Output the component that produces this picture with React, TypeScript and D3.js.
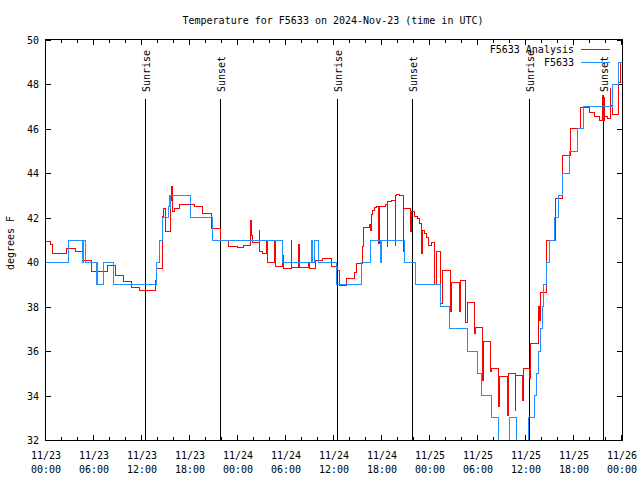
import React from 'react';
import * as d3 from 'd3';

const TITLE = 'Temperature for F5633 on 2024-Nov-23 (time in UTC)';
const Y_LABEL = 'degrees F';
const START = Date.UTC(2024, 10, 23, 0, 0);
const END = Date.UTC(2024, 10, 26, 0, 0);
const yTicks = [32, 34, 36, 38, 40, 42, 44, 46, 48, 50];

// hours since 2024-11-23 00:00 UTC
const sunLabels = ['Sunrise', 'Sunset', 'Sunrise', 'Sunset', 'Sunrise', 'Sunset'];
const sunHours = [12.42, 21.79, 36.43, 45.78, 60.45, 69.72];

const seriesNames = ['F5633 Analysis', 'F5633'];
const seriesColors = ['#ff0000', '#1e90ff'];

// F5633 observations
const obsHours = [
  0, 2.79, 4.54, 4.71, 4.96, 6.25, 6.31, 6.375, 7.2, 8.41, 13.84, 14.125, 14.54, 15.29, 15.4, 15.5, 15.6,
  18.09, 20.79, 29.54, 33.125, 33.34, 33.54, 34.04, 36.34, 39.46, 40.5, 41.81, 41.94, 44.75, 46.125,
  49.31, 50.41, 52.66, 53.875, 54.375, 55.625, 56.54, 57.91, 58.75, 60.29, 61.04, 61.34, 61.5, 61.75,
  62.0, 62.16, 62.59, 62.94, 63.5, 64.04, 64.54, 65.375, 66.41, 67.16, 70.84, 71.54, 72,
];
const obsTemps = [
  40, 41, 40, 41, 40, 39, 40, 39, 40, 39, 40, 41, 42, 42.5, 43, 42.4, 43,
  42, 41, 40, 41, 40, 41, 40, 39, 40, 41, 40, 41, 40, 39,
  38, 37, 36, 35, 34, 33, 31, 33, 31, 33, 34, 35, 36, 37,
  38, 39, 40, 41, 42, 43, 44, 45, 46, 47, 48, 49, 49,
];

// F5633 analysis
const anaHours = [
  0, 0.59, 0.79, 2.59, 3.63, 4.66, 5.63, 7.71, 8.63, 9.66, 10.71, 11.66, 13.71, 13.84, 14.54, 14.66, 14.88,
  15.59, 15.66, 15.75, 16.04, 16.63, 18.5, 19.54, 20.71, 21.75, 22.79, 23.91, 24.71, 25.59, 25.66, 25.79,
  26.63, 26.71, 27.04, 27.59, 27.66, 28.54, 28.63, 29.54, 29.63, 30.63, 30.71, 31.54, 31.63, 32.79, 32.91,
  33.63, 34.54, 35.71, 36.41, 36.66, 37.59, 38.5, 38.75, 39.54, 39.66, 40.41, 40.56, 40.71, 40.84, 41.04,
  41.34, 41.59, 41.66, 42.38, 42.63, 42.71, 43.21, 43.63, 43.71, 43.84, 44.13, 44.63, 44.71, 45.5, 45.71,
  46.04, 46.41, 46.66, 46.96, 47.04, 47.29, 47.59, 47.79, 48.13, 48.54, 48.75, 49.25, 49.59, 50.5, 50.66,
  51.66, 51.84, 52.46, 52.66, 53.5, 53.63, 54.59, 54.66, 55.59, 55.71, 56.59, 56.66, 57.63, 57.79, 58.63,
  58.71, 59.59, 59.66, 60.38, 60.59, 61.54, 61.69, 61.84, 62.56, 63.63, 64.56, 65.56, 66.75, 67.88, 68.5,
  69.16, 69.59, 69.66, 69.75, 69.84, 70.16, 70.5, 70.59, 70.84, 71.54, 71.75, 72,
];
const anaTemps = [
  40.95, 40.8, 40.4, 40.6, 40.5, 40.1, 39.6, 39.85, 39.4, 39.15, 38.87, 38.75, 39.2, 39.7, 42.05, 42.4, 41.4,
  42.8, 43.4, 42.3, 42.4, 42.6, 42.5, 42.2, 41.5, 40.97, 40.73, 40.67, 40.77, 41.9, 41.2, 40.9,
  41.45, 40.5, 40.4, 41.0, 40.0, 41.0, 39.8, 40.3, 39.73, 41.0, 39.75, 40.8, 39.75, 40.0, 39.7,
  40.1, 40.15, 39.8, 39.65, 38.95, 39.25, 39.55, 39.95, 40.73, 41.55, 41.7, 41.45, 42.15, 42.35, 42.45,
  42.5, 40.85, 42.5, 42.6, 40.7, 42.75, 42.8, 40.75, 43.0, 43.05, 43.0, 40.5, 42.4, 41.4, 42.27,
  42.05, 41.95, 41.75, 40.4, 41.45, 41.3, 41.1, 40.77, 40.9, 39.0, 40.5, 38.15, 39.65, 37.8, 39.1,
  37.8, 39.17, 37.3, 38.2, 36.8, 37.07, 34.7, 36.42, 35.07, 35.23, 33.5, 34.88, 33.1, 35.0, 33.35,
  34.9, 33.8, 35.23, 34.77, 36.35, 38.0, 37.4, 38.65, 41.0, 42.85, 44.8, 46.0, 46.95, 46.73, 46.55,
  46.4, 47.5, 46.4, 47.4, 46.58, 46.47, 47.8, 47.07, 46.65, 48.1, 49.0, 49.0,
];

const W = 640;
const H = 480;
const L = 46;
const R = 622;
const T = 40;
const B = 440;
const FONT = '"DejaVu Sans Mono", "Liberation Mono", monospace';

const toDate = (h: number) => new Date(START + h * 3600 * 1000);

export default function App() {
  const x = d3.scaleUtc().domain([new Date(START), new Date(END)]).range([L, R]);
  const y = d3.scaleLinear().domain([32, 50]).range([B, T]);

  const line = d3
    .line<[number, number]>()
    .x((d) => x(toDate(d[0])))
    .y((d) => y(d[1]))
    .curve(d3.curveStepAfter);

  const anaPath = line(anaHours.map((h, i) => [h, anaTemps[i]] as [number, number])) || '';
  const obsPath = line(obsHours.map((h, i) => [h, obsTemps[i]] as [number, number])) || '';

  const minorTicks = x.ticks(d3.utcHour.every(2)!);
  const majorTicks = x.ticks(d3.utcHour.every(6)!);
  const fmtDate = d3.utcFormat('%m/%d');
  const fmtTime = d3.utcFormat('%H:%M');

  const crisp = (v: number) => Math.round(v) + 0.5;

  return (
    <svg
      width={W}
      height={H}
      style={{ position: 'absolute', left: 0, top: 0, background: '#fff' }}
      fontFamily={FONT}
      fontSize={10}
    >
      <rect x={0} y={0} width={W} height={H} fill="#fff" />
      <defs>
        <clipPath id="plotclip">
          <rect x={L} y={T} width={R - L} height={B - T} />
        </clipPath>
      </defs>

      <text x={333} y={24} textAnchor="middle" fill="#000">
        {TITLE}
      </text>

      {/* y ticks */}
      {yTicks.map((t) => (
        <g key={'y' + t}>
          <line x1={L} x2={L + 5} y1={crisp(y(t))} y2={crisp(y(t))} stroke="#000" />
          <line x1={R - 5} x2={R} y1={crisp(y(t))} y2={crisp(y(t))} stroke="#000" />
          <text x={39} y={y(t) + 4} textAnchor="end" fill="#000">
            {t}
          </text>
        </g>
      ))}

      {/* x ticks */}
      {minorTicks.map((t, i) => {
        const isMajor = t.getUTCHours() % 6 === 0;
        const len = isMajor ? 5 : 3;
        const xx = crisp(x(t)) - 1;
        return (
          <g key={'xm' + i}>
            <line x1={xx} x2={xx} y1={B} y2={B - len} stroke="#000" />
            <line x1={xx} x2={xx} y1={T} y2={T + len} stroke="#000" />
          </g>
        );
      })}
      {majorTicks.map((t, i) => (
        <g key={'xl' + i}>
          <text x={x(t)} y={459} textAnchor="middle" fill="#000">
            {fmtDate(t)}
          </text>
          <text x={x(t)} y={473} textAnchor="middle" fill="#000">
            {fmtTime(t)}
          </text>
        </g>
      ))}

      <text
        transform={`translate(14, 243) rotate(-90)`}
        textAnchor="middle"
        fill="#000"
      >
        {Y_LABEL}
      </text>

      {/* sunrise / sunset */}
      {sunHours.map((h, i) => {
        const xx = Math.floor(x(toDate(h))) + 0.5;
        return (
          <g key={'sun' + i}>
            <line x1={xx} x2={xx} y1={99} y2={B} stroke="#000" />
            <text
              transform={`translate(${xx + 4}, 92) rotate(-90)`}
              textAnchor="start"
              fill="#000"
            >
              {sunLabels[i]}
            </text>
          </g>
        );
      })}

      <g clipPath="url(#plotclip)">
        <path d={anaPath} fill="none" stroke={seriesColors[0]} strokeWidth={1} shapeRendering="crispEdges" />
        <path d={obsPath} fill="none" stroke={seriesColors[1]} strokeWidth={1} shapeRendering="crispEdges" />
      </g>

      {/* legend */}
      {seriesNames.map((n, i) => (
        <g key={'lg' + i}>
          <text x={574} y={53 + i * 13} textAnchor="end" fill="#000">
            {n}
          </text>
          <line x1={581} x2={610} y1={49.5 + i * 13} y2={49.5 + i * 13} stroke={seriesColors[i]} />
        </g>
      ))}

      <rect x={L - 0.5} y={T - 0.5} width={R - L + 1} height={B - T + 1} fill="none" stroke="#000" />
    </svg>
  );
}
